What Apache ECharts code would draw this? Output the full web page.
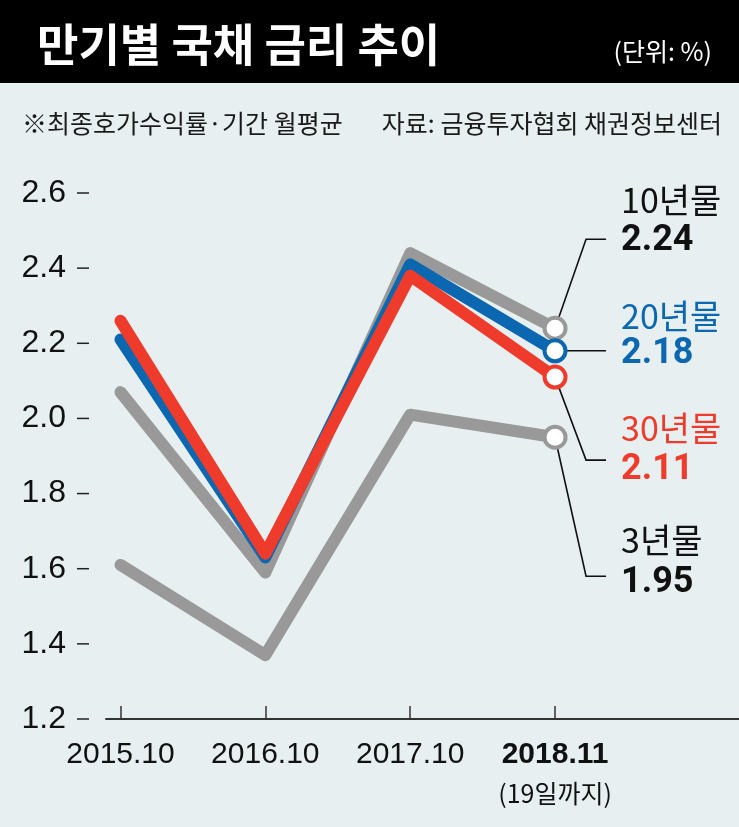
<!DOCTYPE html>
<html>
<head>
<meta charset="utf-8">
<script src="https://cdn.jsdelivr.net/npm/echarts@6/dist/echarts.min.js"></script>
<style>
html,body{margin:0;padding:0;background:#e7eff1;}
#c{width:739px;height:827px;}
</style>
</head>
<body>
<div id="c"></div>
<script>
// ---- data ----
const categories = ['2015.10', '2016.10', '2017.10', '2018.11'];
const lastCategoryNote = '(19일까지)';
const seriesNames = ['3년물', '10년물', '20년물', '30년물'];
const yield3y  = [1.61, 1.37, 2.01, 1.95];
const yield10y = [2.07, 1.59, 2.44, 2.24];
const yield20y = [2.21, 1.63, 2.41, 2.18];
const yield30y = [2.26, 1.64, 2.38, 2.11];
const lastValueLabels = ['1.95', '2.24', '2.18', '2.11'];
const titleText = '만기별 국채 금리 추이';
const unitText = '(단위: %)';
const noteText = '※최종호가수익률·기간 월평균';
const sourceText = '자료: 금융투자협회 채권정보센터';

// ---- styles / layout ----
const colors = ['#999999', '#999999', '#0a67b0', '#ee3b2b'];
const labelColors = ['#111111', '#111111', '#0a67b0', '#ee3b2b'];
const NUMF = '"Liberation Sans", Arial, sans-serif';
const KR = '"Noto Sans CJK KR", sans-serif';
const allSeries = [yield3y, yield10y, yield20y, yield30y];
const lastIdx = categories.length - 1;
const W = 739;

const chart = echarts.init(document.getElementById('c'), null, {renderer: 'canvas'});

function makeSeries(idx) {
  const vals = allSeries[idx];
  return {
    name: seriesNames[idx],
    type: 'line',
    z: 2 + idx,
    data: vals.map((v, i) => i === lastIdx
      ? {value: [i, v], symbol: 'circle', symbolSize: 21}
      : {value: [i, v], symbol: 'none'}),
    showSymbol: true,
    lineStyle: {color: colors[idx], width: 12, cap: 'round', join: 'round'},
    itemStyle: {color: '#ffffff', borderColor: colors[idx], borderWidth: 4},
    emphasis: {disabled: true},
    animation: false,
    silent: true
  };
}

const option = {
  backgroundColor: '#e7eff1',
  animation: false,
  grid: {left: 106, right: 0, top: 193, bottom: 108, containLabel: false},
  xAxis: {
    type: 'value',
    min: -0.1,
    max: 4.27,
    splitLine: {show: false},
    axisLine: {show: true, lineStyle: {color: '#333333', width: 2}},
    axisTick: {show: true, inside: true, length: 13, customValues: [0, 1, 2, 3], lineStyle: {color: '#333333', width: 1.5}},
    axisLabel: {
      customValues: [0, 1, 2, 3],
      margin: 18,
      formatter: function (v) {
        const i = Math.round(v);
        if (i === lastIdx) return '{b|' + categories[i] + '}\n{n|' + lastCategoryNote + '}';
        return '{a|' + categories[i] + '}';
      },
      rich: {
        a: {fontFamily: NUMF, fontSize: 30, color: '#111', lineHeight: 36},
        b: {fontFamily: NUMF, fontSize: 30, fontWeight: 'bold', color: '#111', lineHeight: 36},
        n: {fontFamily: KR, fontSize: 25, color: '#111', lineHeight: 40}
      }
    }
  },
  yAxis: {
    type: 'value',
    min: 1.2,
    max: 2.6,
    interval: 0.2,
    splitLine: {show: false},
    axisLine: {show: false},
    axisTick: {show: false},
    axisLabel: {
      margin: 17,
      formatter: v => '{v|' + v.toFixed(1) + '}{g|}{t|}',
      rich: {
        v: {fontFamily: NUMF, fontSize: 32, color: '#111', lineHeight: 36},
        g: {width: 11, height: 2},
        t: {width: 12, height: 1.5, backgroundColor: '#222222'}
      }
    }
  },
  series: [0, 1, 2, 3].map(makeSeries)
};
chart.setOption(option);

// ---- annotations (positioned relative to each series' last point) ----
// per series: [leader elbow dy, name dy, value dy] relative to marker pixel
const annoOffsets = [
  [139, 103, 146],
  [-89, -128, -87],
  [0, -35, 3],
  [83, 51, 93]
];
const elbowDx = 31, leaderEndDx = 51, textDx = 66;

const graphics = [
  {type: 'rect', z: 10, shape: {x: 0, y: 0, width: W, height: 83}, style: {fill: '#000000'}},
  {type: 'text', z: 11, x: 37, y: 45, style: {text: titleText, fill: '#ffffff', font: 'bold 45px ' + KR, align: 'left', verticalAlign: 'middle', textAlign: 'left', textVerticalAlign: 'middle'}},
  {type: 'text', z: 11, x: 712, y: 51, style: {text: unitText, fill: '#ffffff', font: '25px ' + KR, align: 'right', verticalAlign: 'middle', textAlign: 'right', textVerticalAlign: 'middle'}},
  {type: 'text', z: 11, x: 22, y: 123, style: {text: noteText, fill: '#1a1a1a', font: '25px ' + KR, align: 'left', verticalAlign: 'middle', textAlign: 'left', textVerticalAlign: 'middle'}},
  {type: 'text', z: 11, x: 722, y: 123, style: {text: sourceText, fill: '#1a1a1a', font: '25px ' + KR, align: 'right', verticalAlign: 'middle', textAlign: 'right', textVerticalAlign: 'middle'}}
];

for (let s = 0; s < 4; s++) {
  const p = chart.convertToPixel({seriesIndex: s}, [lastIdx, allSeries[s][lastIdx]]);
  const off = annoOffsets[s];
  const ey = p[1] + off[0];
  graphics.push({
    type: 'polyline', z: 0, silent: true,
    shape: {points: [[p[0], p[1]], [p[0] + elbowDx, ey], [p[0] + leaderEndDx, ey]]},
    style: {stroke: '#111111', lineWidth: 1.6, fill: null}
  });
  graphics.push({
    type: 'text', z: 11, x: p[0] + textDx, y: p[1] + off[1],
    style: {text: seriesNames[s], fill: labelColors[s], font: '34px ' + KR, align: 'left', verticalAlign: 'middle', textAlign: 'left', textVerticalAlign: 'middle'}
  });
  graphics.push({
    type: 'text', z: 11, x: p[0] + textDx, y: p[1] + off[2],
    style: {text: lastValueLabels[s], fill: labelColors[s], font: 'bold 36px Roboto, "Liberation Sans", sans-serif', align: 'left', verticalAlign: 'middle', textAlign: 'left', textVerticalAlign: 'middle'}
  });
}

chart.setOption({graphic: {elements: graphics}});
</script>
</body>
</html>
